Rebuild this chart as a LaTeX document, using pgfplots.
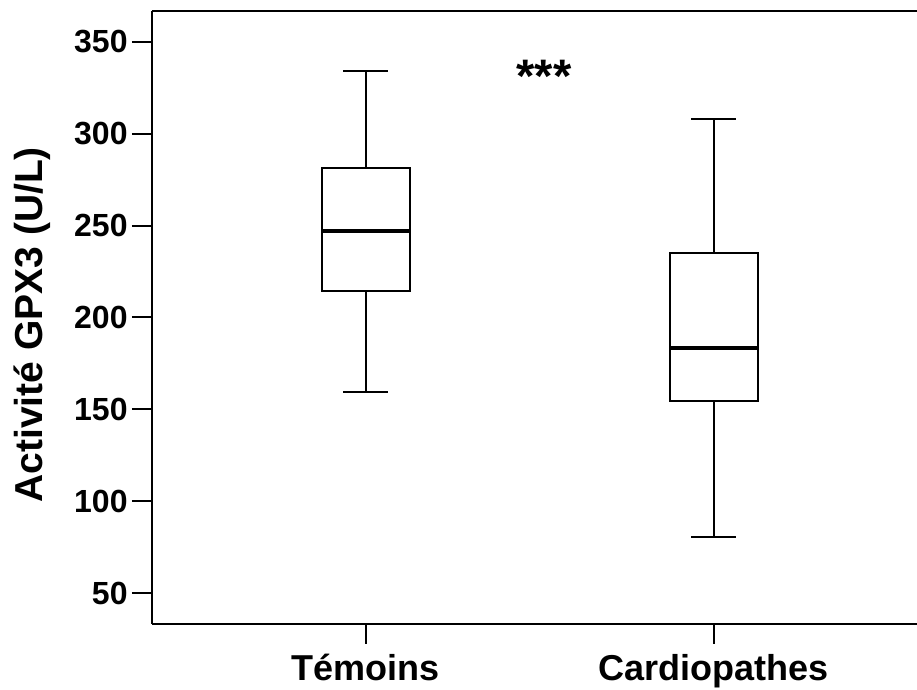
\documentclass[border=0pt]{standalone}
\usepackage{fontspec}
\setmainfont{Liberation Sans}
\usepackage{pgfplots}
\pgfplotsset{compat=1.18}
\usepgfplotslibrary{statistics}

\begin{document}
\begin{tikzpicture}
% page frame: 1 px = 0.5 pt, axis box south west at the origin
\path[use as bounding box] (-76pt,-33pt) rectangle (382.5pt,312pt);
\begin{axis}[
  at={(0,0)}, anchor=south west,
  scale only axis,
  width=382.5pt, height=306.5pt,
  xmin=0.386, xmax=2.584,
  ymin=33.3, ymax=366.7,
  axis x line*=bottom, axis y line*=left,
  axis line style={line width=1pt, -},
  xtick={1,2},
  xticklabels={Témoins, Cardiopathes},
  ytick={50,100,...,350},
  tick align=outside,
  major tick length=10pt,
  tick style={line width=1pt, black},
  /pgf/number format/assume math mode=true,
  yticklabel style={font=\fontsize{16}{18}\selectfont\bfseries, inner sep=0pt, xshift=-2pt},
  xticklabel style={font=\fontsize{18}{20}\selectfont\bfseries, inner sep=0pt, yshift=-5pt},
  ylabel={Activité GPX3 (U/L)},
  ylabel style={font=\fontsize{19.5}{22}\selectfont\bfseries,
    at={(axis description cs:-0.1425,0.488)}, rotate=0, anchor=base},
  boxplot/draw direction=y,
  boxplot/box extend=0.253,
  boxplot/whisker extend=0.13,
  boxplot/every box/.style={draw=black, line width=1.1pt, fill=white},
  boxplot/every whisker/.style={black, line width=1.1pt},
  boxplot/every median/.style={black, line width=2pt},
  clip=false,
]
% Témoins
\addplot+[mark=none, black, boxplot prepared={
    draw position=1,
    lower whisker=159.5, lower quartile=214.6,
    median=247.2,
    upper quartile=281.3, upper whisker=333.9}]
  coordinates {};
% Cardiopathes
\addplot+[mark=none, black, boxplot prepared={
    draw position=2,
    lower whisker=80.8, lower quartile=154.6,
    median=183.2,
    upper quartile=234.9, upper whisker=308.1}]
  coordinates {};
% significance marker
\node[anchor=north, inner sep=0pt, font=\fontsize{23.5}{26}\selectfont\bfseries]
  at (axis cs:1.512,340) {***};
\end{axis}
% top frame line
\draw[line width=1pt] (0,306.5pt) -- (383pt,306.5pt);
\end{tikzpicture}
\end{document}
